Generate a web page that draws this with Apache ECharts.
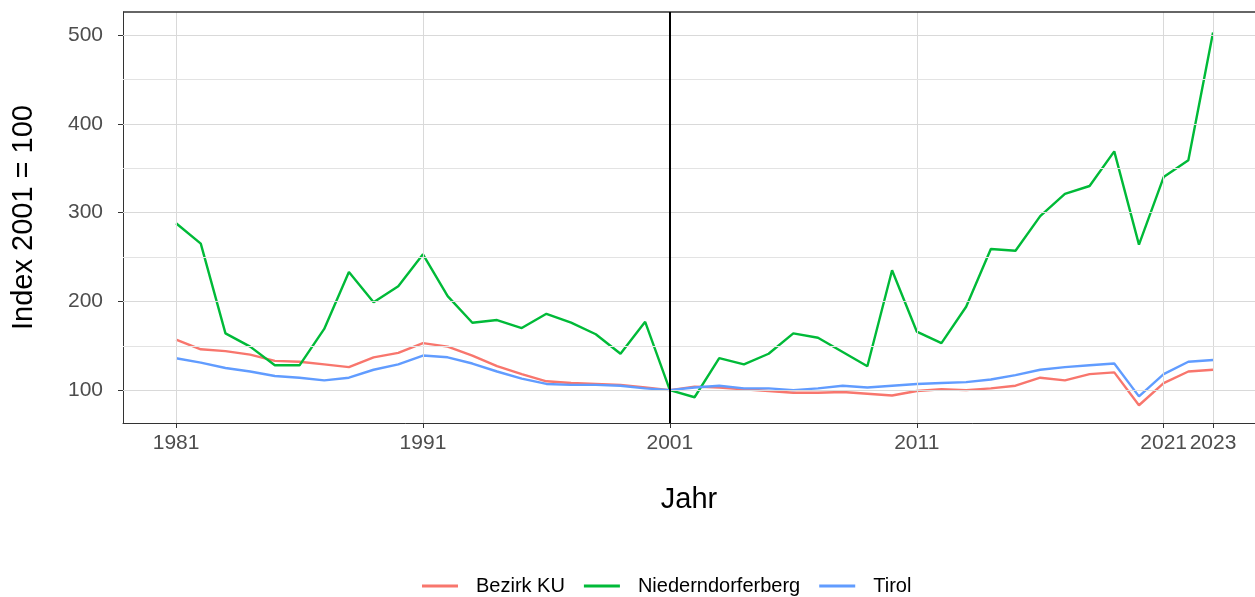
<!DOCTYPE html>
<html>
<head>
<meta charset="utf-8">
<script src="https://cdn.jsdelivr.net/npm/echarts@6/dist/echarts.min.js"></script>
<style>
  html, body { margin: 0; padding: 0; background: #fff; }
  #chart { width: 1255px; height: 597px; }
</style>
</head>
<body>
<div id="chart"></div>
<script>
// Jahre
const years = [1981, 1982, 1983, 1984, 1985, 1986, 1987, 1988, 1989, 1990,
  1991, 1992, 1993, 1994, 1995, 1996, 1997, 1998, 1999, 2000,
  2001, 2002, 2003, 2004, 2005, 2006, 2007, 2008, 2009, 2010,
  2011, 2012, 2013, 2014, 2015, 2016, 2017, 2018, 2019, 2020,
  2021, 2022, 2023];

// Index 2001 = 100
const bezirkKU = [157, 146, 144, 140, 133, 132, 129, 126, 137, 142,
  153, 149, 139, 127, 118, 110, 108, 107, 106, 103,
  100, 104, 103, 101, 99, 97, 97, 98, 96, 94,
  99, 101, 100, 102, 105, 114, 111, 118, 120, 83,
  108, 121, 123];
const niederndorferberg = [288, 265, 164, 149, 128, 128, 169, 233, 199, 217,
  253, 206, 176, 179, 170, 186, 176, 163, 141, 177,
  100, 92, 136, 129, 141, 164, 159, 143, 127, 235,
  166, 153, 194, 259, 257, 296, 321, 330, 369, 264,
  340, 359, 503];
const tirol = [136, 131, 125, 121, 116, 114, 111, 114, 123, 129,
  139, 137, 130, 121, 113, 107, 106, 106, 105, 102,
  100, 103, 105, 102, 102, 100, 102, 105, 103, 105,
  107, 108, 109, 112, 117, 123, 126, 128, 130, 93,
  118, 132, 134];

// Achsenbeschriftung
const xTicks = [1981, 1991, 2001, 2011, 2021, 2023];
const yTicks = [100, 200, 300, 400, 500];
const yMinor = [150, 250, 350, 450];
const baseYear = 2001;

const xMin = 1978.85;
const xMax = 2024.7;
const yMin = 63;
const yMax = 526;

const pairs = (vals) => years.map((y, i) => [y, vals[i]]);

const chart = echarts.init(document.getElementById("chart"));

const font = "Liberation Sans, Arial, sans-serif";
const gridColor = "#d9d9d9";
const frameColor = "#333333";

const option = {
  animation: false,
  textStyle: { fontFamily: font },
  grid: {
    left: 123,
    right: 0,
    top: 12,
    bottom: 174,
  },
  legend: {
    data: ["Bezirk KU", "Niederndorferberg", "Tirol"],
    left: 422,
    top: 576,
    padding: 0,
    icon: "rect",
    itemWidth: 36,
    itemHeight: 3,
    itemGap: 19,
    textStyle: {
      fontFamily: font,
      fontSize: 20,
      color: "#000",
      padding: [0, 0, 0, 13],
    },
  },
  xAxis: {
    type: "value",
    min: xMin,
    max: xMax,
    name: "Jahr",
    nameLocation: "middle",
    nameGap: 62,
    nameTextStyle: { fontSize: 29, color: "#000", fontFamily: font },
    axisLine: { show: true, lineStyle: { color: frameColor } },
    axisTick: { show: true, customValues: xTicks, length: 5, lineStyle: { color: frameColor } },
    axisLabel: {
      customValues: xTicks,
      fontSize: 21,
      color: "#4d4d4d",
      margin: 10,
      formatter: (v) => String(v),
    },
    splitLine: { show: false },
  },
  yAxis: {
    type: "value",
    min: yMin,
    max: yMax,
    name: "Index 2001 = 100",
    nameLocation: "middle",
    nameGap: 85,
    nameTextStyle: { fontSize: 29, color: "#000", fontFamily: font },
    axisLine: { show: true, lineStyle: { color: frameColor } },
    axisTick: { show: true, customValues: yTicks, length: 5, lineStyle: { color: frameColor } },
    axisLabel: {
      customValues: yTicks,
      fontSize: 21,
      color: "#4d4d4d",
      margin: 20,
    },
    splitLine: { show: false },
  },
  series: [
    {
      // Gitterlinien + oberer Rahmen
      type: "line",
      data: [],
      silent: true,
      z: 1,
      markLine: {
        silent: true,
        symbol: "none",
        label: { show: false },
        animation: false,
        data: [
          ...xTicks.map((v) => ({ xAxis: v, lineStyle: { color: gridColor, width: 1, type: "solid" } })),
          ...yTicks.map((v) => ({ yAxis: v, lineStyle: { color: gridColor, width: 1, type: "solid" } })),
          ...yMinor.map((v) => ({ yAxis: v, lineStyle: { color: "#e3e3e3", width: 1, type: "solid" } })),
          { yAxis: yMax, lineStyle: { color: frameColor, width: 1.5, type: "solid" } },
        ],
      },
    },
    {
      name: "Bezirk KU",
      type: "line",
      data: pairs(bezirkKU),
      showSymbol: false,
      symbol: "none",
      color: "#F8766D",
      lineStyle: { width: 2.4 },
      z: 3,
    },
    {
      name: "Niederndorferberg",
      type: "line",
      data: pairs(niederndorferberg),
      showSymbol: false,
      symbol: "none",
      color: "#00BA38",
      lineStyle: { width: 2.4 },
      z: 3,
    },
    {
      name: "Tirol",
      type: "line",
      data: pairs(tirol),
      showSymbol: false,
      symbol: "none",
      color: "#619CFF",
      lineStyle: { width: 2.4 },
      z: 3,
      markLine: {
        silent: true,
        symbol: "none",
        label: { show: false },
        lineStyle: { color: "#000", width: 2, type: "solid" },
        data: [{ xAxis: baseYear }],
      },
    },
  ],
};

chart.setOption(option);
</script>
</body>
</html>
